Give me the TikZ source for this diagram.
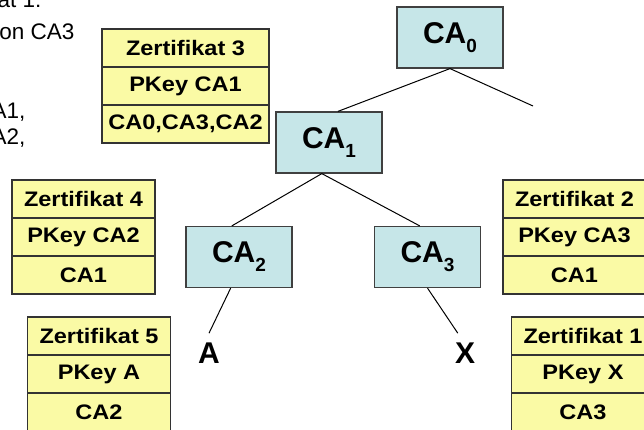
\documentclass[tikz,border=0pt]{standalone}
\usepackage{fontspec}
\setmainfont{Liberation Sans}
\newfontfamily\certfont{Liberation Sans}[FakeStretch=1.12]
\usetikzlibrary{positioning}
\definecolor{cablue}{RGB}{198,230,232}
\definecolor{certyellow}{RGB}{250,250,165}
% lowered index digit of a CA name
\newcommand\casub[1]{\raisebox{-9pt}{\fontsize{19}{19}\selectfont#1}}

\begin{document}
\begin{tikzpicture}[x=1pt,y=-1pt,node distance=0pt,line width=1pt,
ca/.style={draw=black!75,line width=1.2pt,fill=cablue,minimum width=106pt,minimum height=61pt,inner sep=0pt,font=\fontsize{30}{30}\selectfont\bfseries},
cert/.style={draw=black!80,line width=1.2pt,fill=certyellow,minimum width=143pt,minimum height=38pt,inner sep=0pt,outer sep=0pt,font=\certfont\fontsize{21}{24}\selectfont\bfseries},
widecert/.style={cert,minimum width=167pt},
leaf/.style={inner xsep=0pt,inner ysep=9pt,font=\fontsize{30}{30}\selectfont\bfseries},
bgtext/.style={anchor=base east,inner sep=0pt,font=\fontsize{22.5}{26}\selectfont}]
\useasboundingbox[fill=white] (0,0) rectangle (644,430);
\clip (0,0) rectangle (644,430);
% slide text left of the tree
\node[bgtext] (t1) at (42,8) {Zertifikat 1:};
\node[bgtext] (t2) at (75,40) {von CA3};
\node[bgtext] (t3) at (26,119) {CA1,};
\node[bgtext] (t4) at (26,145) {CA2,};
% CA hierarchy
\node[ca] (ca0) at (450,37.5) {CA\casub{0}};
\node[ca] (ca1) at (329,142.5) {CA\casub{1}};
\node[ca] (ca2) at (239,257) {CA\casub{2}};
\node[ca] (ca3) at (427.5,257) {CA\casub{3}};
\node[leaf] (a) at (209,353) {A};
\node[leaf] (x) at (465,353) {X};
\coordinate (ca0r) at (533,106);
\draw (ca0.south)--(ca1.74);\draw (ca0.south)--(ca0r);
\draw (ca1.-103)--(ca2.103);\draw (ca1.-103)--(ca3.104);
\draw (ca2.-105)--(a.north);\draw (ca3.south)--(x.110);
% certificates
\node[widecert] (z3a) at (185.5,48) {Zertifikat 3};
\node[widecert,below=of z3a] (z3b) {PKey CA1};
\node[widecert,below=of z3b] (z3c) {CA0,CA3,CA2};
\node[cert] (z4a) at (83.5,199) {Zertifikat 4};
\node[cert,below=of z4a] (z4b) {PKey CA2};
\node[cert,below=of z4b] (z4c) {CA1};
\node[cert] (z5a) at (99,336) {Zertifikat 5};
\node[cert,below=of z5a] (z5b) {PKey A};
\node[cert,below=of z5b] (z5c) {CA2};
\node[cert] (z2a) at (574.5,199) {Zertifikat 2};
\node[cert,below=of z2a] (z2b) {PKey CA3};
\node[cert,below=of z2b] (z2c) {CA1};
\node[cert] (z1a) at (583,336) {Zertifikat 1};
\node[cert,below=of z1a] (z1b) {PKey X};
\node[cert,below=of z1b] (z1c) {CA3};
\end{tikzpicture}
\end{document}
